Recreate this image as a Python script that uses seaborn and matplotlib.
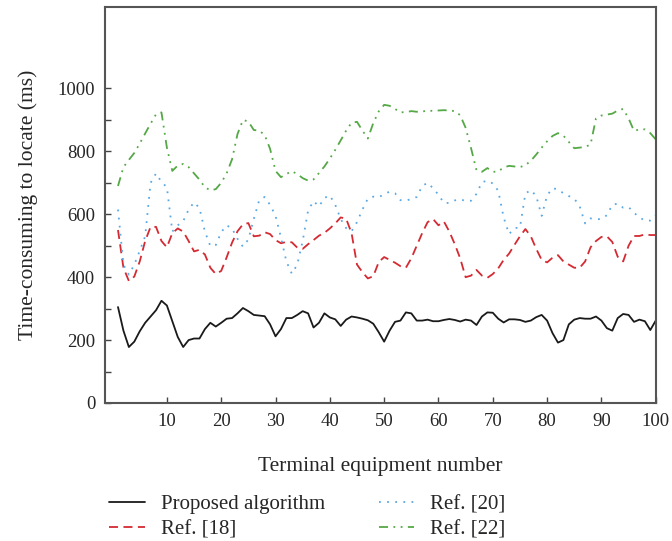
import matplotlib
matplotlib.use("Agg")
import matplotlib.pyplot as plt
from matplotlib.ticker import FixedLocator
import seaborn as sns
import numpy as np

# terminal equipment numbers 1..100
terminal = list(range(1, 101))

proposed = [
    305, 230, 178, 195, 228, 255, 275, 295, 325, 310,
    260, 210, 178, 200, 205, 205, 235, 255, 243, 255,
    268, 270, 285, 302, 292, 280, 278, 276, 250, 212,
    235, 270, 270, 280, 292, 285, 240, 255, 285, 272,
    266, 245, 265, 275, 272, 268, 263, 252, 225, 195,
    230, 258, 262, 288, 285, 262, 262, 265, 260, 260,
    264, 267, 264, 259, 265, 262, 248, 275, 288, 287,
    268, 256, 266, 266, 264, 258, 262, 273, 280, 262,
    222, 192, 200, 250, 265, 270, 268, 268, 275, 262,
    238, 230, 270, 283, 280, 258, 265, 260, 232, 262,
]

ref18 = [
    550, 430, 388, 402, 450, 515, 560, 560, 515, 495,
    540, 555, 545, 515, 482, 487, 472, 430, 410, 420,
    463, 510, 546, 568, 572, 530, 532, 543, 537, 518,
    508, 512, 511, 494, 490, 505, 518, 532, 541, 555,
    571, 590, 586, 540, 440, 416, 396, 403, 448, 464,
    455, 446, 435, 430, 460, 500, 540, 575, 585, 565,
    577, 545, 505, 460, 400, 405, 423, 405, 398, 410,
    428, 455, 475, 503, 530, 553, 530, 490, 455, 447,
    462, 470, 450, 440, 430, 430, 450, 495, 515, 528,
    530, 512, 465, 450, 500, 531, 531, 536, 534, 534,
]

ref20 = [
    615, 440, 408, 440, 484, 530, 700, 730, 703, 686,
    545, 565, 578, 615, 638, 620, 545, 499, 502, 543,
    565, 555, 522, 497, 520, 585, 645, 655, 630, 595,
    526, 450, 411, 440, 515, 612, 642, 625, 652, 660,
    630, 585, 556, 546, 575, 615, 650, 656, 654, 664,
    672, 667, 645, 643, 649, 655, 690, 700, 683, 662,
    636, 636, 644, 648, 642, 643, 665, 702, 707, 698,
    675, 590, 537, 556, 558, 666, 677, 658, 595, 660,
    683, 679, 667, 658, 650, 625, 571, 587, 584, 585,
    597, 630, 634, 621, 623, 605, 590, 580, 580, 597,
]

ref22 = [
    690, 750, 773, 795, 825, 857, 888, 918, 924, 812,
    738, 755, 760, 750, 730, 710, 686, 676, 680, 700,
    730, 775, 855, 900, 895, 868, 866, 852, 808, 738,
    718, 728, 737, 728, 715, 707, 711, 731, 752, 777,
    805, 835, 866, 891, 894, 866, 841, 890, 927, 948,
    945, 935, 924, 925, 928, 926, 927, 929, 929, 930,
    931, 930, 928, 915, 875, 810, 740, 735, 747, 735,
    736, 749, 754, 752, 750, 756, 770, 790, 812, 832,
    849, 858, 850, 830, 810, 812, 814, 822, 905, 914,
    917, 920, 930, 935, 905, 865, 870, 870, 858, 838,
]

sns.set_theme(style="white")
plt.rcParams["font.family"] = ["Liberation Serif", "DejaVu Serif"]

fig = plt.figure(figsize=(6.72, 5.41), dpi=100)
ax = fig.add_axes([0.1562, 0.2551, 0.8196, 0.7325])

sns.lineplot(x=terminal, y=proposed, ax=ax, color="#1a1a1a", linewidth=1.3,
             label="Proposed algorithm")
sns.lineplot(x=terminal, y=ref18, ax=ax, color="#d42a32", linewidth=1.3,
             linestyle=(0, (5, 3)), label="Ref. [18]")
sns.lineplot(x=terminal, y=ref20, ax=ax, color="#5aa8e4", linewidth=1.3,
             linestyle=(0, (1, 3.5)), label="Ref. [20]")
sns.lineplot(x=terminal, y=ref22, ax=ax, color="#55a846", linewidth=1.3,
             linestyle=(0, (5, 3, 1, 3, 1, 3)), label="Ref. [22]")

ax.set_xlim(-1.4, 100)
ax.set_ylim(0, 1260)
ax.set_xticks(np.arange(10, 101, 10))
ax.yaxis.set_major_locator(FixedLocator(np.arange(0, 1001, 200)))
ax.yaxis.set_minor_locator(FixedLocator(np.arange(100, 1000, 200)))
ax.tick_params(axis="both", which="both", direction="in", length=4.5,
               width=1.0, color="#444444", labelsize=13.5, pad=7)
ax.tick_params(axis="y", which="both", left=True)
ax.tick_params(axis="x", bottom=True)

for sp in ax.spines.values():
    sp.set_color("#555555")
    sp.set_linewidth(1.5)

ax.set_xlabel("Terminal equipment number", fontsize=15.5, labelpad=20)
ax.set_ylabel("Time-consuming to locate (ms)", fontsize=15.5, labelpad=14)

handles, labels = ax.get_legend_handles_labels()
ax.get_legend().remove()
fig.legend(handles, labels, ncol=2, loc="upper left",
           bbox_to_anchor=(0.135, 0.12), frameon=False, fontsize=15,
           handlelength=1.7, handletextpad=0.75, columnspacing=2.6,
           labelspacing=0.25)

fig.savefig("out.png", dpi=100)
